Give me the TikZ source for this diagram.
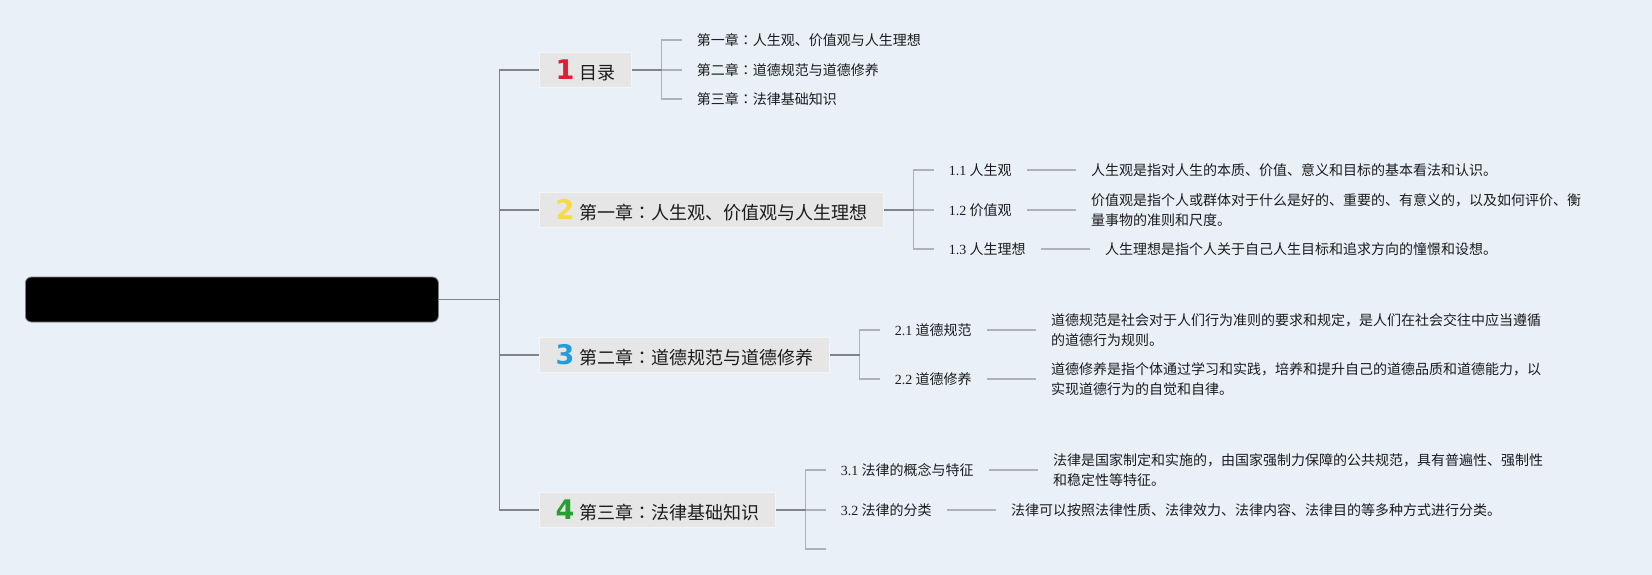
\documentclass[tikz,border=0pt]{standalone}
\usepackage{fontspec}
\usepackage{tikz}
\usetikzlibrary{positioning,calc}
\setmainfont{Noto Sans CJK SC}
\newfontfamily\numfont{Liberation Serif}
\newfontfamily\digitfont{DejaVu Sans}
\newfontfamily\colonfont{Noto Sans CJK JP}
\definecolor{bgblue}{RGB}{233,240,248}
\definecolor{boxgrey}{RGB}{230,230,230}
\definecolor{linedark}{RGB}{128,133,139}
\definecolor{linelight}{RGB}{172,178,184}
\definecolor{inkgrey}{RGB}{28,28,28}
\definecolor{numred}{RGB}{222,30,50}
\definecolor{numyellow}{RGB}{246,219,70}
\definecolor{numblue}{RGB}{36,156,218}
\definecolor{numgreen}{RGB}{38,158,48}
\newcommand{\chapdigit}[2]{{\digitfont\bfseries\fontsize{27}{27}\selectfont\color{#1}#2}\hspace{5pt}}
\newcommand{\cln}{{\colonfont ：}}

\begin{document}
\begin{tikzpicture}[x=1pt, y=-1pt, text=inkgrey,
    font=\fontsize{14}{20}\selectfont,
    rootbox/.style={draw=gray, line width=0.8pt, fill=black, rounded corners=6pt,
      minimum width=413pt, minimum height=45pt, anchor=west},
    chapbox/.style={draw=white!55!boxgrey, line width=1pt, fill=boxgrey, anchor=west,
      minimum height=35pt, inner xsep=16pt, inner ysep=0pt,
      font=\fontsize{18}{22}\selectfont},
    leaf/.style={anchor=west, inner xsep=15pt, inner ysep=2pt, align=left},
    trunk/.style={draw=linedark, line width=1.3pt},
    twig/.style={draw=linelight, line width=1.3pt}]
    % Background
    \fill [bgblue] (0,0) rectangle (1652,575);
    \useasboundingbox (0,0) rectangle (1652,575);

    % Nodes
    \node [rootbox] (root) at (25,299.5) {};
    \coordinate (fork) at ($(root.east)+(61,0)$);

    \node [chapbox] (ch1) at (539,70) {\chapdigit{numred}{1}目录};
    \node [chapbox] (ch2) at (539,210) {\chapdigit{numyellow}{2}第一章\cln 人生观、价值观与人生理想};
    \node [chapbox] (ch3) at (539,355) {\chapdigit{numblue}{3}第二章\cln 道德规范与道德修养};
    \node [chapbox] (ch4) at (539,510) {\chapdigit{numgreen}{4}第三章\cln 法律基础知识};

    \node [leaf] (c1a) at ($(ch1.east)+(50,-30)$) {第一章\cln 人生观、价值观与人生理想};
    \node [leaf] (c1b) at ($(ch1.east)+(50,0)$) {第二章\cln 道德规范与道德修养};
    \node [leaf] (c1c) at ($(ch1.east)+(50,29)$) {第三章\cln 法律基础知识};

    \node [leaf] (s11) at ($(ch2.east)+(50,-40)$) {{\numfont 1.1} 人生观};
    \node [leaf] (s12) at ($(ch2.east)+(50,0)$) {{\numfont 1.2} 价值观};
    \node [leaf] (s13) at ($(ch2.east)+(50,39)$) {{\numfont 1.3} 人生理想};
    \node [leaf, right=49pt of s11] (d11) {人生观是指对人生的本质、价值、意义和目标的基本看法和认识。};
    \node [leaf, right=49pt of s12] (d12) {价值观是指个人或群体对于什么是好的、重要的、有意义的，以及如何评价、衡\\量事物的准则和尺度。};
    \node [leaf, right=49pt of s13] (d13) {人生理想是指个人关于自己人生目标和追求方向的憧憬和设想。};

    \node [leaf] (s21) at ($(ch3.east)+(50,-25)$) {{\numfont 2.1} 道德规范};
    \node [leaf] (s22) at ($(ch3.east)+(50,24)$) {{\numfont 2.2} 道德修养};
    \node [leaf, right=49pt of s21] (d21) {道德规范是社会对于人们行为准则的要求和规定，是人们在社会交往中应当遵循\\的道德行为规则。};
    \node [leaf, right=49pt of s22] (d22) {道德修养是指个体通过学习和实践，培养和提升自己的道德品质和道德能力，以\\实现道德行为的自觉和自律。};

    \node [leaf] (s31) at ($(ch4.east)+(50,-40)$) {{\numfont 3.1} 法律的概念与特征};
    \node [leaf] (s32) at ($(ch4.east)+(50,0)$) {{\numfont 3.2} 法律的分类};
    \coordinate (c4e) at ($(ch4.east)+(50,39)$);
    \node [leaf, right=49pt of s31] (d31) {法律是国家制定和实施的，由国家强制力保障的公共规范，具有普遍性、强制性\\和稳定性等特征。};
    \node [leaf, right=49pt of s32] (d32) {法律可以按照法律性质、法律效力、法律内容、法律目的等多种方式进行分类。};

    % Lines
    \foreach \c in {ch1,ch2,ch3,ch4}
      \draw [trunk] (root.east) -- (fork) |- (\c.west);
    \foreach \c/\kids in {ch1/{c1a.west,c1b.west,c1c.west}, ch2/{s11.west,s12.west,s13.west},
                          ch3/{s21.west,s22.west}, ch4/{s31.west,s32.west,c4e}} {
      \coordinate (\c-fork) at ($(\c.east)+(30,0)$);
      \foreach \k in \kids
        \draw [twig] (\c-fork) |- (\k);
      \draw [trunk] (\c.east) -- (\c-fork);
    }
    \foreach \a/\b in {s11/d11,s12/d12,s13/d13,s21/d21,s22/d22,s31/d31,s32/d32}
      \draw [twig] (\a.east) -- (\b.west);
\end{tikzpicture}
\end{document}
